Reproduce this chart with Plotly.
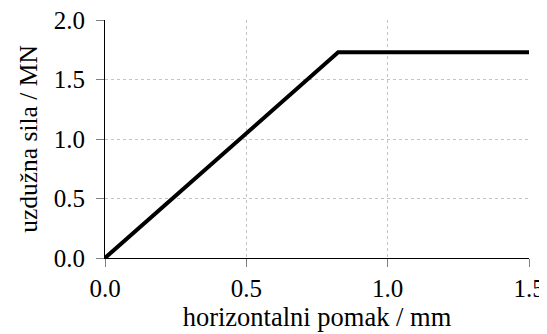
import plotly.graph_objects as go

# data
displacement_mm = [0.0, 0.825, 1.5]
force_MN = [0.0, 1.728, 1.728]

x_title = "horizontalni pomak / mm"
y_title = "uzdužna sila / MN"

font_family = "Liberation Serif"

fig = go.Figure()
fig.add_trace(go.Scatter(
    x=displacement_mm, y=force_MN, mode="lines",
    line=dict(color="black", width=4),
    showlegend=False,
))

axis_common = dict(
    showline=True, linecolor="black", linewidth=1,
    showgrid=True, gridcolor="#c4c4c4", griddash="dot", gridwidth=1,
    zeroline=False, automargin=False, ticklabeloverflow="allow",
    ticks="outside", ticklen=8, tickcolor="#808080", tickwidth=1,
    tickfont=dict(family=font_family, size=25, color="black"),
    tickformat=".1f", dtick=0.5,
)

# page body has an 8px margin, so the figure is sized to the remaining viewport
fig.update_layout(
    width=539, height=326,
    margin=dict(l=97, r=18, t=12, b=76),
    paper_bgcolor="white", plot_bgcolor="white",
    font=dict(family=font_family, size=25, color="black"),
    xaxis=dict(range=[0, 1.5], title=dict(text=x_title, standoff=0,
               font=dict(family=font_family, size=26.5)), **axis_common),
    yaxis=dict(range=[0, 2.0], title=dict(text=y_title, standoff=8,
               font=dict(family=font_family, size=25.5)), ticklabelstandoff=6, **axis_common),
)

fig.write_html("out.html")
